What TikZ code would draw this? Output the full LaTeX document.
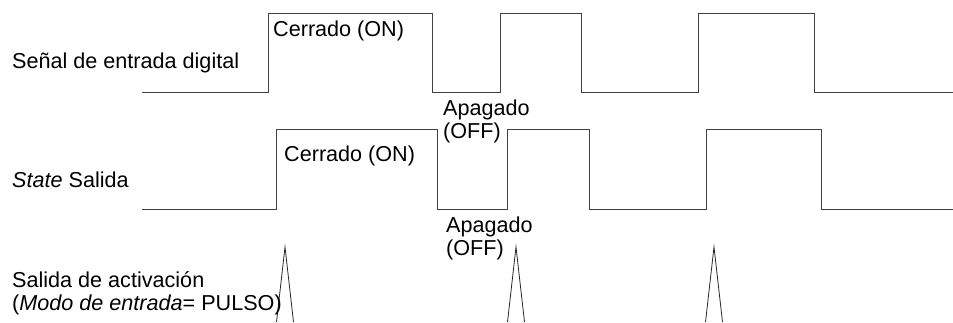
\documentclass[tikz,border=0pt]{standalone}
\usepackage{fontspec}
\setmainfont{Liberation Sans}
\begin{document}
\begin{tikzpicture}[x=1pt,y=-1pt,
  sig/.style={draw=black!75, line width=1pt},
  lbl/.style={inner sep=0pt, anchor=base west, font=\fontsize{21.6}{23}\selectfont},
  lbl2/.style={inner sep=0pt, anchor=base west, align=left, font=\fontsize{21.6}{22.5}\selectfont}]
\useasboundingbox (0,0) rectangle (953,322);
% digital input
\coordinate (a0) at (142,92);
\draw[sig] (a0) -- (268,92) -- (268,13) -- (432,13) -- (432,92) -- (500,92) -- (500,13) -- (581,13) -- (581,92) -- (698,92) -- (698,13) -- (814,13) -- (814,92) -- (953,92);
% state output
\coordinate (b0) at (142,209);
\draw[sig] (b0) -- (276,209) -- (276,129) -- (437,129) -- (437,209) -- (507,209) -- (507,129) -- (589,129) -- (589,209) -- (706,209) -- (706,129) -- (821,129) -- (821,209) -- (953,209);
% pulses
\foreach \c in {285,516,714}{
  \draw[draw=black!85, line width=0.8pt] (\c-8.5,322) -- (\c,247) -- (\c+8.5,322);
}
% labels
\node[lbl] (l1) at (12,68) {Señal de entrada digital};
\node[lbl] (l2) at (12,187) {\textit{State} Salida};
\node[lbl2] (l3) at (12,310) {Salida de activación\\(\textit{Modo de entrada}= PULSO)};
\node[lbl] (c1) at (273,36) {Cerrado (ON)};
\node[lbl] (c2) at (284,161) {Cerrado (ON)};
\node[lbl2] (o1) at (443,138) {Apagado\\(OFF)};
\node[lbl2] (o2) at (446,255) {Apagado\\(OFF)};
\end{tikzpicture}
\end{document}
